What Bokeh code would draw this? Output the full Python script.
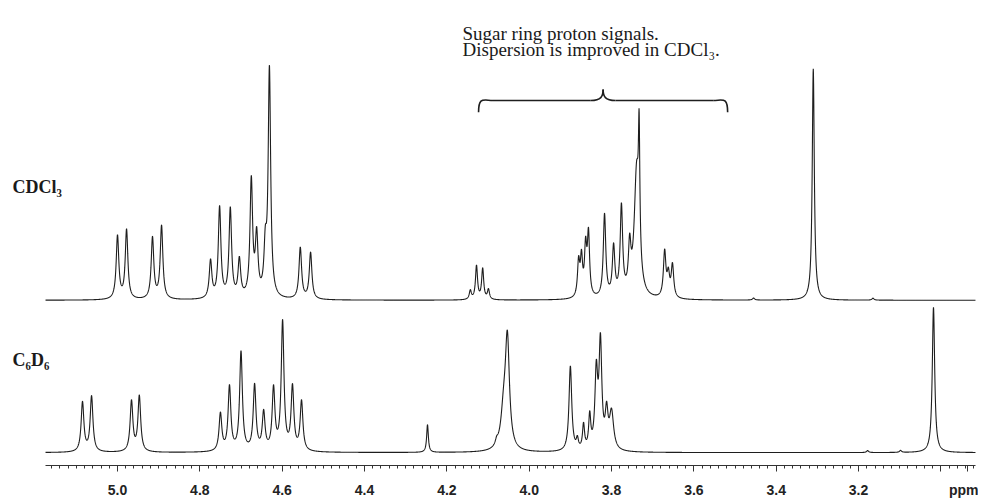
import numpy as np
from bokeh.plotting import figure
from bokeh.models import Range1d, FixedTicker, Label, CustomJSTickFormatter
from bokeh.embed import file_html
from bokeh.resources import INLINE

# ---------------- data ----------------
# CDCl3 spectrum: peak positions (ppm), heights (a.u.), half widths (ppm)
cdcl3_ppm = [5.000, 4.978, 4.915, 4.893, 4.774, 4.752, 4.726, 4.704, 4.675, 4.662,
             4.641, 4.631, 4.556, 4.531, 4.143, 4.128, 4.113, 4.099, 3.880, 3.873,
             3.863, 3.856, 3.817, 3.795, 3.776, 3.756, 3.739, 3.733, 3.671, 3.662,
             3.652, 3.455, 3.310, 3.165]
cdcl3_height = [64, 70, 62, 74, 38, 92, 90, 38, 118, 60,
                45, 230, 52, 47, 9, 34, 31, 10, 35, 38,
                48, 62, 84, 50, 90, 45, 126, 118, 46, 22,
                33, 2, 234, 2]
cdcl3_hw = [0.0038, 0.0038, 0.0038, 0.0038, 0.0038, 0.0038, 0.0038, 0.0038, 0.0038, 0.0038,
            0.0038, 0.0036, 0.0038, 0.0038, 0.0030, 0.0030, 0.0030, 0.0030, 0.0032, 0.0032,
            0.0032, 0.0032, 0.0036, 0.0036, 0.0036, 0.0036, 0.0070, 0.0020, 0.0036, 0.0036,
            0.0036, 0.0030, 0.0030, 0.0030]

# C6D6 spectrum
c6d6_ppm = [5.085, 5.063, 4.966, 4.947, 4.750, 4.728, 4.700, 4.667, 4.645, 4.621,
            4.599, 4.575, 4.553, 4.247, 4.079, 4.062, 4.053, 3.900, 3.883, 3.868,
            3.853, 3.837, 3.827, 3.812, 3.800, 3.178, 3.098, 3.018]
c6d6_height = [50, 56, 51, 56, 38, 65, 100, 66, 38, 62,
               130, 64, 50, 28, 5, 35, 108, 86, 10, 25,
               33, 76, 106, 35, 38, 2, 2, 147]
c6d6_hw = [0.0040, 0.0040, 0.0040, 0.0040, 0.0040, 0.0040, 0.0040, 0.0040, 0.0040, 0.0040,
           0.0040, 0.0040, 0.0040, 0.0025, 0.0040, 0.0080, 0.0060, 0.0040, 0.0030, 0.0030,
           0.0030, 0.0040, 0.0040, 0.0040, 0.0060, 0.0030, 0.0030, 0.0035]

major_ticks = [5.0, 4.8, 4.6, 4.4, 4.2, 4.0, 3.8, 3.6, 3.4, 3.2, 3.0]
unit_label = "ppm"
unit_label_ppm = 2.935          # where the unit text sits on the axis
solvent_labels = ["CDCl\u2083", "C\u2086D\u2086"]
note_lines = ["Sugar ring proton signals.", "Dispersion is improved in CDCl\u2083."]
brace_ppm = (4.123, 3.518)      # span of the sugar-ring region under the brace

# ---------------- layout constants ----------------
W, H = 978, 500
PX_PER_PPM = 411.7
AXIS_Y = 470                         # pixel row of the axis line
X_LEFT = 5.0 + 117 / PX_PER_PPM      # ppm at the left canvas edge
X_RIGHT = X_LEFT - W / PX_PER_PPM    # ppm at the right canvas edge
SPEC_LEFT, SPEC_RIGHT = 5.175, 2.916 # recorded window of the spectra
CDCL3_BASE = 167
C6D6_BASE = 13

def lorentz_sum(x, ppm, h, hw):
    y = np.zeros_like(x)
    for c, a, w in zip(ppm, h, hw):
        y += a / (1.0 + ((x - c) / w) ** 2)
    return y

x = np.arange(SPEC_RIGHT, SPEC_LEFT, 0.0004)
y_cdcl3 = CDCL3_BASE + lorentz_sum(x, cdcl3_ppm, cdcl3_height, cdcl3_hw)
y_c6d6 = C6D6_BASE + lorentz_sum(x, c6d6_ppm, c6d6_height, c6d6_hw)

p = figure(width=W, height=H, output_backend="svg", toolbar_location=None,
           x_range=Range1d(X_LEFT, X_RIGHT), y_range=Range1d(0, AXIS_Y),
           y_axis_location=None,
           min_border_left=0, min_border_right=0, min_border_top=0,
           min_border_bottom=H - AXIS_Y)
p.outline_line_color = None
p.grid.visible = False
p.background_fill_color = "white"
p.border_fill_color = "white"

line_col = "#1e1e1e"
p.line(x, y_cdcl3, line_color=line_col, line_width=1.1)
p.line(x, y_c6d6, line_color=line_col, line_width=1.1)

# axis
ax = p.xaxis[0]
ax.bounds = (SPEC_RIGHT, SPEC_LEFT)
ax.ticker = FixedTicker(ticks=major_ticks + [unit_label_ppm],
                        minor_ticks=[round(v, 2) for v in np.arange(2.92, 5.17, 0.02)])
ax.formatter = CustomJSTickFormatter(
    args=dict(unit=unit_label, upos=unit_label_ppm),
    code="""
    if (Math.abs(tick - upos) < 1e-6) return unit;
    if (Math.abs(tick - 3.0) < 1e-6) return "";
    return tick.toFixed(1);
    """)
ax.axis_line_color = "#333333"
ax.major_tick_line_color = "#333333"
ax.minor_tick_line_color = "#333333"
ax.major_tick_in = 0
ax.major_tick_out = 6
ax.minor_tick_in = 0
ax.minor_tick_out = 3
ax.major_label_standoff = 10
ax.major_label_text_font = "Liberation Sans"
ax.major_label_text_font_size = "14px"
ax.major_label_text_font_style = "bold"
ax.major_label_text_color = "#222222"

# page pixel -> data helpers for annotation placement
def px_x(px):
    return X_LEFT - px / PX_PER_PPM
def px_y(py):
    return AXIS_Y - py

# solvent labels
p.add_layout(Label(x=px_x(12), y=px_y(189), text=solvent_labels[0], text_align="left",
                   text_baseline="middle", text_font="Liberation Serif",
                   text_font_size="18px", text_font_style="bold", text_color="#1a1a1a"))
p.add_layout(Label(x=px_x(12), y=px_y(363), text=solvent_labels[1], text_align="left",
                   text_baseline="middle", text_font="Liberation Serif",
                   text_font_size="18px", text_font_style="bold", text_color="#1a1a1a"))

# note text
for i, t in enumerate(note_lines):
    p.add_layout(Label(x=px_x(462), y=px_y(33 + 17 * i), text=t, text_align="left",
                       text_baseline="alphabetic", text_font="Liberation Serif",
                       text_font_size="19px", text_color="#1a1a1a"))

# curly brace over the sugar region
b0, b1 = brace_ppm
bm = (b0 + b1) / 2
yb = px_y(101); ye = px_y(113); yc = px_y(90)
d = 0.035
bw = 1.6
p.bezier(x0=[b0], y0=[ye], x1=[b0 - d], y1=[yb], cx0=[b0], cy0=[yb + 4], cx1=[b0 - d / 3], cy1=[yb],
         line_color=line_col, line_width=bw)
p.line([b0 - d, bm + 0.03], [yb, yb], line_color=line_col, line_width=bw)
p.bezier(x0=[bm + 0.03], y0=[yb], x1=[bm], y1=[yc], cx0=[bm + 0.005], cy0=[yb], cx1=[bm], cy1=[yb + 4],
         line_color=line_col, line_width=bw)
p.bezier(x0=[bm], y0=[yc], x1=[bm - 0.03], y1=[yb], cx0=[bm], cy0=[yb + 4], cx1=[bm - 0.005], cy1=[yb],
         line_color=line_col, line_width=bw)
p.line([bm - 0.03, b1 + d], [yb, yb], line_color=line_col, line_width=bw)
p.bezier(x0=[b1 + d], y0=[yb], x1=[b1], y1=[ye], cx0=[b1 + d / 3], cy0=[yb], cx1=[b1], cy1=[yb + 4],
         line_color=line_col, line_width=bw)

open("out.html", "w").write(file_html(p, INLINE))
